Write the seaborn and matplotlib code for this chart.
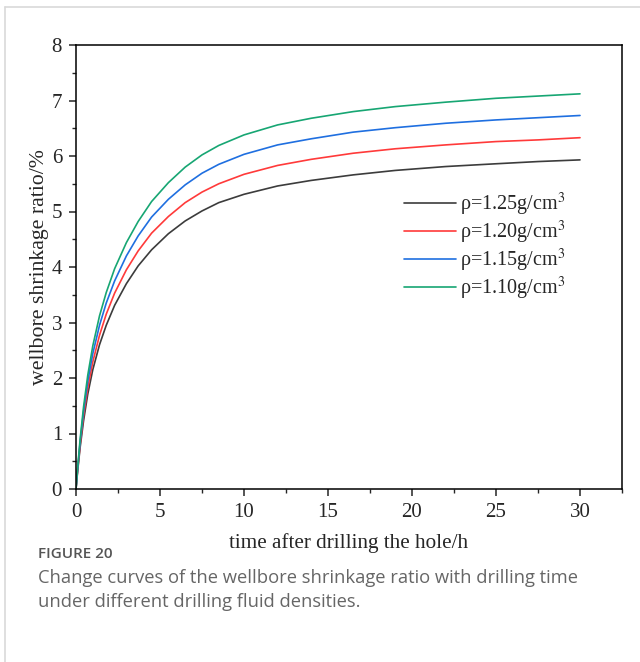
import pandas as pd
import numpy as np
import matplotlib
matplotlib.use("Agg")
import matplotlib.pyplot as plt
from matplotlib.lines import Line2D
from matplotlib.ticker import MultipleLocator
import seaborn as sns

# ── Data ────────────────────────────────────────────────
time_h = [0, 0.1, 0.25, 0.45, 0.7, 1.0, 1.4, 1.8, 2.3, 3.0, 3.7, 4.5, 5.5, 6.5,
          7.5, 8.5, 10, 12, 14, 16.5, 19, 22, 25, 27.5, 30]
rho_125 = [0, 0.33, 0.76, 1.23, 1.71, 2.15, 2.60, 2.95, 3.31, 3.70, 4.02, 4.31, 4.60, 4.83,
           5.01, 5.16, 5.31, 5.46, 5.56, 5.66, 5.74, 5.81, 5.86, 5.90, 5.93]
rho_120 = [0, 0.35, 0.81, 1.32, 1.82, 2.29, 2.77, 3.15, 3.53, 3.95, 4.29, 4.61, 4.91, 5.16,
           5.35, 5.50, 5.67, 5.83, 5.94, 6.05, 6.13, 6.20, 6.26, 6.29, 6.33]
rho_115 = [0, 0.37, 0.86, 1.40, 1.94, 2.44, 2.95, 3.35, 3.75, 4.20, 4.56, 4.90, 5.22, 5.48,
           5.69, 5.85, 6.03, 6.20, 6.31, 6.43, 6.51, 6.59, 6.65, 6.69, 6.73]
rho_110 = [0, 0.39, 0.91, 1.48, 2.05, 2.58, 3.12, 3.54, 3.97, 4.44, 4.82, 5.18, 5.52, 5.80,
           6.02, 6.19, 6.38, 6.56, 6.68, 6.80, 6.89, 6.97, 7.04, 7.08, 7.12]

labels = [r"ρ=1.25g/cm$^3$", r"ρ=1.20g/cm$^3$", r"ρ=1.15g/cm$^3$", r"ρ=1.10g/cm$^3$"]
colors = ["#3c3c3c", "#ff3a3a", "#1f6fe0", "#17a673"]

df = pd.concat([
    pd.DataFrame({"t": time_h, "ratio": vals, "density": lab})
    for vals, lab in zip([rho_125, rho_120, rho_115, rho_110], labels)
])

# ── Plot ────────────────────────────────────────────────
sns.set_style("white")
plt.rcParams["font.family"] = ["Liberation Serif", "DejaVu Serif"]
plt.rcParams["mathtext.fontset"] = "stix"

fig = plt.figure(figsize=(6.4, 6.62), dpi=100)
ax = fig.add_axes([76 / 640, 1 - 489 / 662, 546 / 640, 444 / 662])

sns.lineplot(data=df, x="t", y="ratio", hue="density", palette=colors,
             hue_order=labels, linewidth=1.2, ax=ax, estimator=None)

ax.set_xlim(0, 32.5)
ax.set_ylim(0, 8)
ax.xaxis.set_major_locator(MultipleLocator(5))
ax.xaxis.set_minor_locator(MultipleLocator(2.5))
ax.yaxis.set_major_locator(MultipleLocator(1))
ax.yaxis.set_minor_locator(MultipleLocator(0.5))
ax.tick_params(which="major", direction="out", length=5, width=1.1,
               labelsize=15, bottom=True, left=True, top=False, right=False, pad=5)
ax.tick_params(which="minor", direction="out", length=3, width=1.0,
               bottom=True, left=True, top=False, right=False)
for s in ax.spines.values():
    s.set_color("black")
    s.set_linewidth(1.1)

ax.set_xlabel("time after drilling the hole/h", fontsize=15.2, labelpad=8)
ax.set_ylabel("wellbore shrinkage ratio/%", fontsize=15.7, labelpad=2)

ax.legend(loc="upper left", bbox_to_anchor=(0.586, 0.69), frameon=False,
          fontsize=14.5, handlelength=2.6, handletextpad=0.2, labelspacing=0.04,
          borderaxespad=0)

# card border + caption
fig.add_artist(Line2D([5 / 640, 1], [1 - 7 / 662, 1 - 7 / 662], color="#d9d9d9", lw=1.2))
fig.add_artist(Line2D([5 / 640, 5 / 640], [0, 1 - 7 / 662], color="#d9d9d9", lw=1.2))
fig.text(38 / 640, 1 - 554 / 662, "FIGURE 20", family="Open Sans", fontsize=11,
         fontweight="semibold", color="#555555", va="center")
fig.text(38 / 640, 1 - 590 / 662,
         "Change curves of the wellbore shrinkage ratio with drilling time\n"
         "under different drilling fluid densities.",
         family="Open Sans", fontsize=13.2, color="#666666", va="center", linespacing=1.45)

fig.savefig("out.png", dpi=100)
